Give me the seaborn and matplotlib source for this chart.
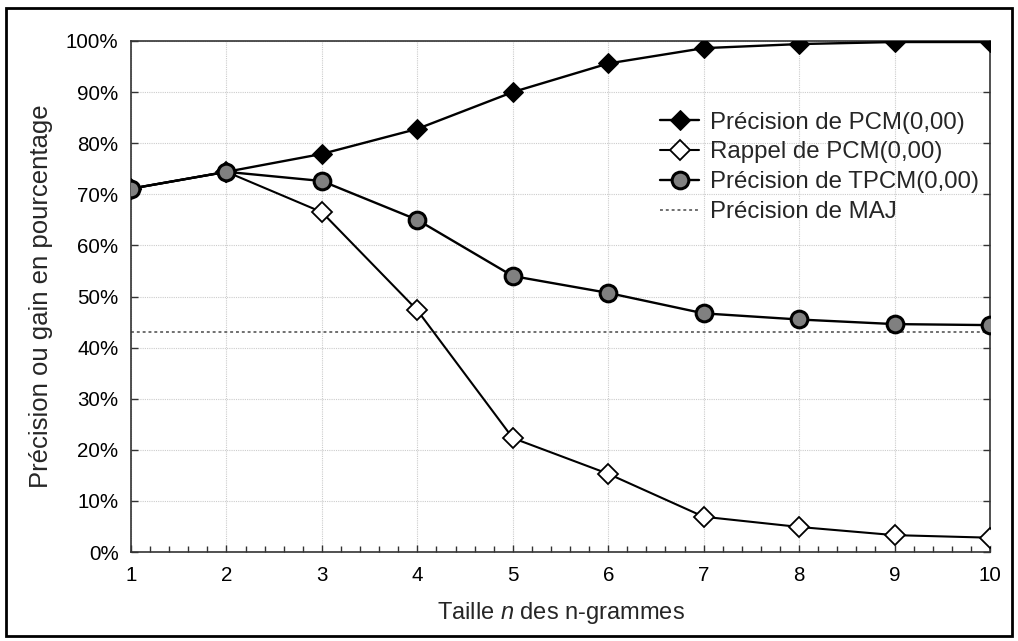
import matplotlib
matplotlib.use("Agg")
import matplotlib.pyplot as plt
import matplotlib.ticker as mticker
from matplotlib.patches import Rectangle
import seaborn as sns
import pandas as pd

n_sizes = [1, 2, 3, 4, 5, 6, 7, 8, 9, 10]
prec_pcm = [71.1, 74.4, 77.9, 82.8, 90.0, 95.6, 98.6, 99.4, 99.8, 99.8]
rappel_pcm = [71.1, 74.4, 66.5, 47.3, 22.3, 15.3, 6.9, 4.9, 3.3, 2.8]
prec_tpcm = [71.1, 74.4, 72.6, 65.0, 54.0, 50.7, 46.7, 45.5, 44.6, 44.4]
prec_maj = 43.0

labels = ["Précision de PCM(0,00)", "Rappel de PCM(0,00)",
          "Précision de TPCM(0,00)", "Précision de MAJ"]
y_ticks = list(range(0, 101, 10))

sns.set_theme(style="white")
plt.rcParams["font.family"] = ["Liberation Sans", "DejaVu Sans"]
plt.rcParams["mathtext.fontset"] = "custom"
plt.rcParams["mathtext.it"] = "Liberation Sans:italic"
plt.rcParams["mathtext.rm"] = "Liberation Sans"

df = pd.DataFrame({"n": n_sizes, "pcm": prec_pcm, "rap": rappel_pcm, "tpcm": prec_tpcm})

fig = plt.figure(figsize=(10.18, 6.41), dpi=100)
ax = fig.add_axes([131 / 1018, 1 - 552 / 641, (990 - 131) / 1018, (552 - 41) / 641])

sns.lineplot(data=df, x="n", y="pcm", ax=ax, color="black", lw=1.7, marker="D",
             markersize=10.5, markerfacecolor="black", markeredgecolor="black",
             label=labels[0], zorder=4)
sns.lineplot(data=df, x="n", y="rap", ax=ax, color="black", lw=1.5, marker="D",
             markersize=10.5, markerfacecolor="white", markeredgecolor="black",
             markeredgewidth=1.3, label=labels[1], zorder=3)
sns.lineplot(data=df, x="n", y="tpcm", ax=ax, color="black", lw=1.7, marker="o",
             markersize=12, markerfacecolor="#808080", markeredgecolor="black",
             markeredgewidth=2.2, label=labels[2], zorder=5)
ax.axhline(prec_maj, color="#707070", lw=1.4, ls=(0, (1.5, 1.5)), label=labels[3], zorder=2)

ax.set_xlim(1, 10)
ax.set_ylim(0, 100)
ax.set_xticks(n_sizes)
ax.xaxis.set_minor_locator(mticker.MultipleLocator(0.2))
ax.set_yticks(y_ticks)
ax.yaxis.set_major_formatter(mticker.FuncFormatter(lambda v, p: f"{int(v)}%"))
ax.tick_params(axis="both", which="major", direction="in", length=5, width=1,
               colors="#333333", labelcolor="black", labelsize=14.8,
               left=True, right=True, bottom=True, top=False)
ax.tick_params(axis="y", which="major", pad=9)
ax.tick_params(axis="x", which="major", pad=10)
ax.tick_params(axis="x", which="minor", direction="in", length=4, width=1,
               colors="#333333", bottom=True, top=False)
ax.grid(True, which="major", color="#cccccc", ls=(0, (1, 1)), lw=0.8)
for s in ax.spines.values():
    s.set_color("#333333")
    s.set_linewidth(1.2)

ax.set_xlabel("Taille $\\mathit{n}$ des n-grammes", fontsize=17, labelpad=11)
ax.set_ylabel("Précision ou gain en pourcentage", fontsize=18.5, labelpad=9)

leg = ax.legend(loc="upper left", bbox_to_anchor=(0.6164, 0.862), frameon=False,
                fontsize=17.3, handlelength=1.6, handletextpad=0.45,
                labelspacing=0.33, borderaxespad=0, borderpad=0)

fig.patches.append(Rectangle((6 / 1018, 1 - 636 / 641), (1012 - 6) / 1018,
                             (636 - 8) / 641, transform=fig.transFigure,
                             fill=False, edgecolor="black", lw=2))

fig.savefig("out.png", dpi=100)
